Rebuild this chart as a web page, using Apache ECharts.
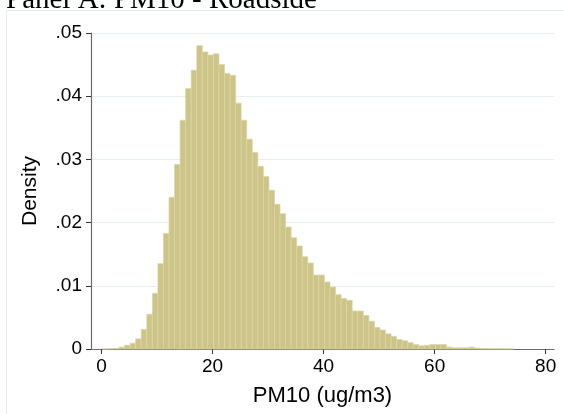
<!DOCTYPE html>
<html><head><meta charset="utf-8">
<script src="https://cdn.jsdelivr.net/npm/echarts@6/dist/echarts.min.js"></script>
<style>html,body{margin:0;padding:0;background:#fff}#c{width:564px;height:414px}</style>
</head><body><div id="c"></div>
<script>
// Histogram bins (width 1, first bin starts at 0.15)
const binFirst = 0.15;
const binWidth = 1;
const density = [
  0.00002, 0.00005, 0.0001, 0.0003, 0.0006, 0.0009, 0.0016, 0.0031, 0.0055, 0.0088,
  0.0135, 0.0183, 0.0240, 0.0292, 0.0362, 0.0412, 0.0441, 0.0480, 0.0470, 0.0465,
  0.0467, 0.0450, 0.0436, 0.0433, 0.0389, 0.0362, 0.0332, 0.0311, 0.0289, 0.0273,
  0.0251, 0.0229, 0.0214, 0.0193, 0.0176, 0.0163, 0.0146, 0.0136, 0.0117, 0.0117,
  0.0106, 0.0098, 0.0086, 0.0080, 0.0077, 0.0060, 0.0060, 0.0053, 0.0044, 0.0034,
  0.0030, 0.0024, 0.0020, 0.0015, 0.0013, 0.0010, 0.0007, 0.0005, 0.0006, 0.0007,
  0.0007, 0.0007, 0.0003, 0.0002, 0.0002, 0.0002, 0.0003, 0.00015, 0.00006, 0.00005,
  0.00005, 0.00004, 0.00004, 0.00003
];
const xTicks = [0, 20, 40, 60, 80];
const yTicks = [0, 0.01, 0.02, 0.03, 0.04, 0.05];
const titleText = 'Panel A: PM10 - Roadside';
const xTitle = 'PM10 (ug/m3)';
const yTitle = 'Density';

const data = density.map((d, i) => [binFirst + i * binWidth, binFirst + (i + 1) * binWidth, d]);

const chart = echarts.init(document.getElementById('c'), null, {renderer: 'canvas'});
const fmtY = v => v === 0 ? '0' : v.toFixed(2).replace(/^0/, '');
chart.setOption({
  animation: false,
  backgroundColor: '#fff',
  title: {
    text: titleText, left: 6, top: -14, padding: 0,
    textStyle: {fontFamily: 'Liberation Serif', fontSize: 29, fontWeight: 'normal', color: '#000'}
  },
  graphic: [{
    type: 'rect', shape: {x: 6.5, y: 10.5, width: 700, height: 600},
    style: {fill: 'none', stroke: '#E3EDEF', lineWidth: 1}, z: -10
  }],
  grid: {left: 91, right: 10, top: 33, bottom: 65, containLabel: false},
  xAxis: {
    type: 'value', min: -1.9, max: 81.5,
    name: xTitle, nameLocation: 'middle', nameGap: 36,
    nameTextStyle: {fontFamily: 'Liberation Sans', fontSize: 22, color: '#000'},
    axisLine: {show: true, onZero: false, lineStyle: {color: '#6b6b6b', width: 1.2}},
    axisTick: {show: true, length: 5, customValues: xTicks, lineStyle: {color: '#333'}},
    axisLabel: {customValues: xTicks, fontFamily: 'Liberation Sans', fontSize: 19, color: '#000', margin: 8},
    splitLine: {show: false}
  },
  yAxis: {
    type: 'value', min: 0, max: 0.05, interval: 0.01,
    name: yTitle, nameLocation: 'middle', nameGap: 50, nameRotate: 90,
    nameTextStyle: {fontFamily: 'Liberation Sans', fontSize: 21, color: '#000'},
    axisLine: {show: true, onZero: false, lineStyle: {color: '#6b6b6b', width: 1.2}},
    axisTick: {show: true, length: 5, lineStyle: {color: '#333'}},
    axisLabel: {formatter: fmtY, fontFamily: 'Liberation Sans', fontSize: 19, color: '#000', margin: 9},
    splitLine: {show: true, lineStyle: {color: '#E6EFF1', width: 1}}
  },
  series: [{
    type: 'custom',
    data: data,
    encode: {x: [0, 1], y: 2},
    renderItem: function (params, api) {
      const p0 = api.coord([api.value(0), api.value(2)]);
      const p1 = api.coord([api.value(1), 0]);
      return {
        type: 'rect',
        shape: {x: p0[0], y: p0[1], width: p1[0] - p0[0], height: p1[1] - p0[1]},
        style: {fill: '#CCC488', stroke: '#DDD6A4', lineWidth: 0.7}
      };
    }
  }]
});
</script></body></html>
